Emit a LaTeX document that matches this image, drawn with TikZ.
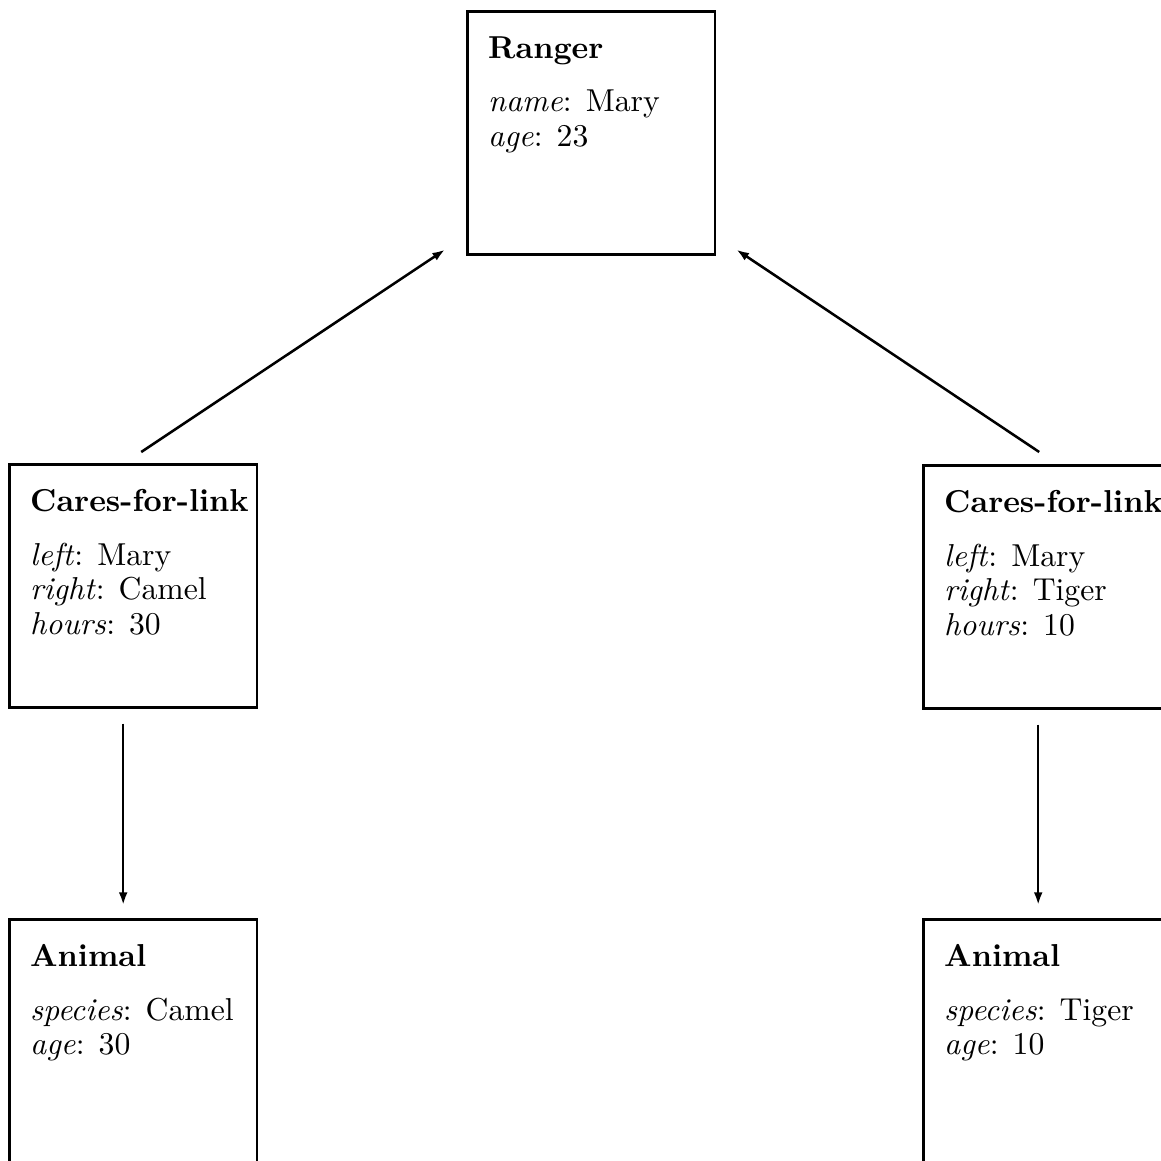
\documentclass[tikz,border=0pt]{standalone}
\usepackage{tikz}
\usetikzlibrary{arrows.meta, positioning, calc}
\newcommand{\attr}[2]{\textit{#1}: #2}
\newcommand{\recbody}[2]{\parbox[t][60.7pt][t]{65pt}{\setlength{\baselineskip}{11pt}\mbox{\textbf{#1}}\\[5.8pt]#2}}

\begin{document}
\begin{tikzpicture}[x=0.3155pt, y=-0.3155pt,
    record/.style={draw, line width=0.8pt, anchor=north west, inner xsep=6.6pt, inner ysep=8pt},
    link/.style={-{Latex[length=4pt, width=2.8pt]}, line width=0.8pt}]
    \useasboundingbox (0,0) rectangle (1161,1160);
    \clip (0,0) rectangle (1161,1160);
    \node[record] (ranger) at (466,10) {\recbody{Ranger}{\attr{name}{Mary}\\ \attr{age}{23}}};
    \node[record] (caresL) at (8,463) {\recbody{Cares-for-link}{\attr{left}{Mary}\\ \attr{right}{Camel}\\ \attr{hours}{30}}};
    \node[record] (caresR) at (922,464) {\recbody{Cares-for-link}{\attr{left}{Mary}\\ \attr{right}{Tiger}\\ \attr{hours}{10}}};
    \node[record] (animalL) at (8,918) {\recbody{Animal}{\attr{species}{Camel}\\ \attr{age}{30}}};
    \node[record] (animalR) at (922,918) {\recbody{Animal}{\attr{species}{Tiger}\\ \attr{age}{10}}};
    \draw[link] ($(caresL.north)+(8,-11)$) -- ($(ranger.south west)+(-21,-6)$);
    \draw[link] ($(caresR.north)+(-8,-12)$) -- ($(ranger.south east)+(20,-6)$);
    \draw[link] ($(caresL.south)+(-10,15)$) -- ($(animalL.north)+(-10,-13)$);
    \draw[link] ($(caresR.south)+(-9,15)$) -- ($(animalR.north)+(-9,-13)$);
\end{tikzpicture}
\end{document}
